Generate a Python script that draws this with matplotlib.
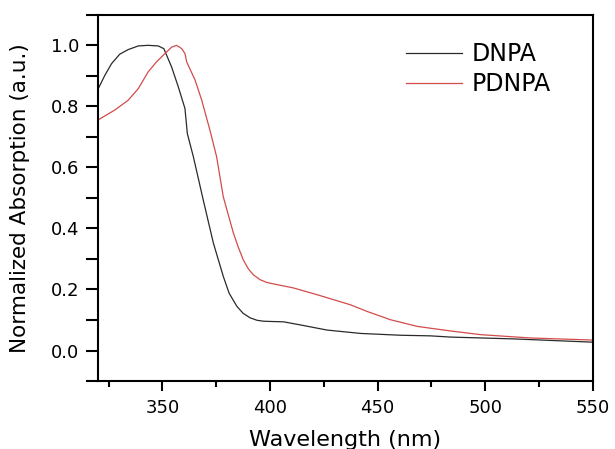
import matplotlib
matplotlib.use('Agg')
from matplotlib import pyplot as plt
from matplotlib.ticker import MultipleLocator

plt.rcParams['font.family'] = ['DejaVu Sans']

# DNPA (black)
wl_dnpa = [320.5, 323.3, 326.4, 330.2, 334.1, 338.8, 343.4, 348.1, 350.7, 354.3,
           357.4, 360.5, 361.6, 364.4, 366.7, 369.0, 373.7, 378.3, 381.0, 384.6,
           387.5, 390.8, 394.0, 397.0, 401.0, 406.3, 414.0, 426.5, 442.0, 460.6,
           474.5, 483.9, 513.3, 551.0]
abs_dnpa = [0.862, 0.902, 0.940, 0.971, 0.986, 0.998, 1.000, 0.998, 0.989, 0.929,
            0.864, 0.793, 0.711, 0.635, 0.564, 0.493, 0.352, 0.243, 0.188, 0.145,
            0.122, 0.107, 0.099, 0.096, 0.095, 0.094, 0.084, 0.067, 0.056, 0.050,
            0.048, 0.044, 0.038, 0.027]

# PDNPA (red)
wl_pdnpa = [320.5, 327.9, 334.1, 338.8, 343.4, 347.3, 351.2, 354.3, 356.6, 359.0,
            360.5, 361.3, 362.0, 365.2, 368.3, 372.1, 375.2, 378.3, 381.0, 383.0,
            385.3, 387.6, 390.0, 392.3, 395.4, 398.5, 403.2, 410.9, 421.8, 437.3,
            445.1, 455.9, 468.4, 483.9, 497.8, 521.1, 551.0]
abs_pdnpa = [0.757, 0.788, 0.820, 0.858, 0.913, 0.946, 0.973, 0.994, 1.000, 0.989,
             0.973, 0.946, 0.935, 0.886, 0.820, 0.722, 0.635, 0.504, 0.435, 0.385,
             0.338, 0.297, 0.267, 0.248, 0.232, 0.223, 0.216, 0.205, 0.183, 0.150,
             0.128, 0.101, 0.079, 0.064, 0.052, 0.041, 0.034]

fig = plt.figure(figsize=(6.15, 4.49), dpi=100)
ax = fig.add_axes([0.159, 0.1514, 0.805, 0.8156])

ax.plot(wl_dnpa, abs_dnpa, color='#2a2a2a', lw=0.9, label='DNPA')
ax.plot(wl_pdnpa, abs_pdnpa, color='#d24b4b', lw=0.9, label='PDNPA')

ax.set_xlim(320, 550)
ax.set_ylim(-0.1, 1.1)
ax.xaxis.set_major_locator(MultipleLocator(50))
ax.xaxis.set_minor_locator(MultipleLocator(25))
ax.yaxis.set_major_locator(MultipleLocator(0.2))
ax.yaxis.set_minor_locator(MultipleLocator(0.1))
ax.yaxis.set_major_formatter(plt.FormatStrFormatter('%.1f'))

for s in ax.spines.values():
    s.set_linewidth(1.5)
ax.tick_params(which='both', direction='out', width=1.5, labelsize=13,
               top=False, right=False)
ax.tick_params(axis='x', which='major', length=7.5, pad=5.5)
ax.tick_params(axis='x', which='minor', length=4)
ax.tick_params(axis='y', which='both', length=8.5, pad=5)

ax.set_xlabel('Wavelength (nm)', fontsize=16, labelpad=9)
ax.set_ylabel('Normalized Absorption (a.u.)', fontsize=15.5, labelpad=15)

ax.legend(loc='upper left', bbox_to_anchor=(0.622, 0.925), frameon=False,
          fontsize=17, handlelength=2.4, handletextpad=0.4, labelspacing=0.25,
          borderpad=0, borderaxespad=0)

fig.savefig('out.png', dpi=100)
